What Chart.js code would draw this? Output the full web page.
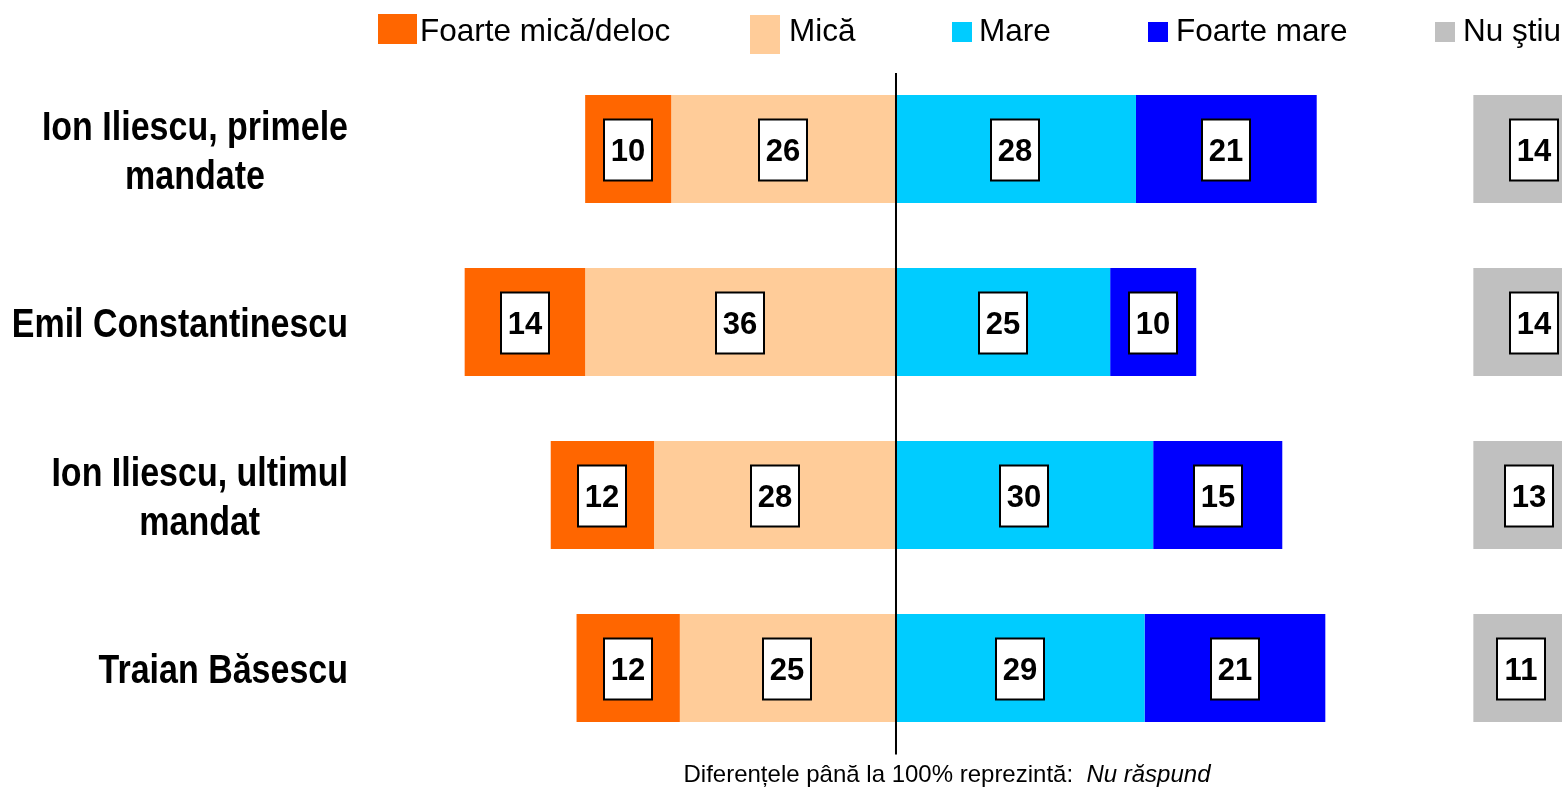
<!DOCTYPE html>
<html>
<head>
<meta charset="utf-8">
<script src="https://cdn.jsdelivr.net/npm/chart.js@4.4.0/dist/chart.umd.min.js"></script>
<style>
    body { margin: 0; background: #fff; }
    #wrap { width: 1562px; height: 788px; position: relative; }
</style>
</head>
<body>
<div id="wrap"><canvas id="chart"></canvas></div>
<script>
// Survey data
const categories = [
    ['Ion Iliescu, primele', 'mandate'],
    ['Emil Constantinescu'],
    ['Ion Iliescu, ultimul', 'mandat'],
    ['Traian Băsescu']
];
const seriesNames = ['Foarte mică/deloc', 'Mică', 'Mare', 'Foarte mare', 'Nu ştiu'];
const foarteMica = [10, 14, 12, 12];
const mica = [26, 36, 28, 25];
const mare = [28, 25, 30, 29];
const foarteMare = [21, 10, 15, 21];
const nuStiu = [14, 14, 13, 11];

const colors = ['#FF6600', '#FFCC99', '#00CCFF', '#0000FF', '#C0C0C0'];
const NU_STIU_START = 67.2; // the "Nu ştiu" column sits apart on the right

// floating bars: negatives to the left of the centre line
const segments = [
    foarteMica.map((v, i) => [-(mica[i] + v), -mica[i]]),
    mica.map(v => [-v, 0]),
    mare.map(v => [0, v]),
    foarteMare.map((v, i) => [mare[i], mare[i] + v]),
    nuStiu.map(v => [NU_STIU_START, NU_STIU_START + v])
];
const values = [foarteMica, mica, mare, foarteMare, nuStiu];

const valueBoxes = {
    id: 'valueBoxes',
    afterDatasetsDraw(chart) {
        const ctx = chart.ctx;
        const xs = chart.scales.x;
        const area = chart.chartArea;

        // centre line
        ctx.save();
        ctx.strokeStyle = '#000';
        ctx.lineWidth = 2;
        ctx.beginPath();
        ctx.moveTo(xs.getPixelForValue(0) + 1, 73);
        ctx.lineTo(xs.getPixelForValue(0) + 1, area.bottom);
        ctx.stroke();

        ctx.font = 'bold 31px "Liberation Sans", Arial, sans-serif';
        ctx.textAlign = 'center';
        ctx.textBaseline = 'middle';
        chart.data.datasets.forEach((ds, di) => {
            chart.getDatasetMeta(di).data.forEach((bar, i) => {
                const cx = Math.round((bar.x + bar.base) / 2);
                const cy = Math.round(bar.y) + 1;
                const w = 48, h = 61;
                ctx.fillStyle = '#fff';
                ctx.fillRect(cx - w / 2, cy - h / 2, w, h);
                ctx.strokeStyle = '#000';
                ctx.lineWidth = 2;
                ctx.strokeRect(cx - w / 2, cy - h / 2, w, h);
                ctx.fillStyle = '#000';
                ctx.fillText(String(values[di][i]), cx, cy + 2);
            });
        });
        ctx.restore();
    },
    afterDraw(chart) {
        const ctx = chart.ctx;
        const ys = chart.scales.y;
        ctx.save();

        // category names: condensed bold, right aligned block with centred lines
        const squeeze = 0.85;
        ctx.font = 'bold 40px "Liberation Sans", Arial, sans-serif';
        ctx.fillStyle = '#000';
        ctx.textAlign = 'center';
        ctx.textBaseline = 'middle';
        categories.forEach((lines, i) => {
            const y = ys.getPixelForValue(i) + 4;
            const widest = Math.max(...lines.map(l => ctx.measureText(l).width)) * squeeze;
            const cx = 348 - widest / 2;
            const gap = 49;
            lines.forEach((l, k) => {
                ctx.save();
                ctx.translate(cx, y + (k - (lines.length - 1) / 2) * gap);
                ctx.scale(squeeze, 1);
                ctx.fillText(l, 0, 0);
                ctx.restore();
            });
        });

        // legend
        const legend = [
            { box: [378, 14, 39, 30], text: 420 },
            { box: [750, 15, 30, 39], text: 789 },
            { box: [952, 22, 20, 20], text: 979 },
            { box: [1148, 22, 20, 20], text: 1176 },
            { box: [1435, 22, 20, 20], text: 1463 }
        ];
        ctx.font = '31.5px "Liberation Sans", Arial, sans-serif';
        ctx.textAlign = 'left';
        ctx.textBaseline = 'alphabetic';
        legend.forEach((item, i) => {
            ctx.fillStyle = colors[i];
            ctx.fillRect(...item.box);
            ctx.fillStyle = '#000';
            ctx.fillText(seriesNames[i], item.text, 41);
        });

        // footnote
        const plain = 'Diferențele până la 100% reprezintă:  ';
        const ital = 'Nu răspund';
        ctx.font = '24px "Liberation Sans", Arial, sans-serif';
        const w1 = ctx.measureText(plain).width;
        ctx.font = 'italic 24px "Liberation Sans", Arial, sans-serif';
        const w2 = ctx.measureText(ital).width;
        const x = 947 - (w1 + w2) / 2;
        ctx.fillStyle = '#000';
        ctx.font = '24px "Liberation Sans", Arial, sans-serif';
        ctx.fillText(plain, x, 782);
        ctx.font = 'italic 24px "Liberation Sans", Arial, sans-serif';
        ctx.fillText(ital, x + w1, 782);
        ctx.restore();
    }
};

new Chart(document.getElementById('chart').getContext('2d'), {
    type: 'bar',
    data: {
        labels: categories.map(c => c.join(' ')),
        datasets: segments.map((d, i) => ({
            label: seriesNames[i],
            data: d,
            backgroundColor: colors[i],
            borderWidth: 0,
            grouped: false,
            categoryPercentage: 1,
            barPercentage: 108 / 173
        }))
    },
    options: {
        indexAxis: 'y',
        responsive: true,
        maintainAspectRatio: false,
        animation: false,
        layout: { padding: { left: 378.6, right: 0, top: 62.5, bottom: 33.5 } },
        scales: {
            x: { type: 'linear', min: -60, max: 77.5, display: false },
            y: { display: false }
        },
        plugins: {
            legend: { display: false },
            tooltip: { enabled: false }
        }
    },
    plugins: [valueBoxes]
});
</script>
</body>
</html>
